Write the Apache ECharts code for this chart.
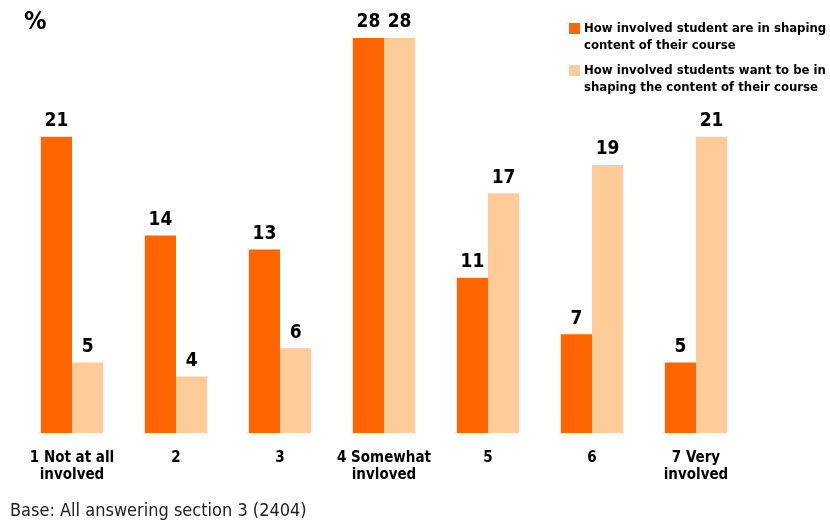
<!DOCTYPE html>
<html>
<head>
<meta charset="utf-8">
<script src="https://cdn.jsdelivr.net/npm/echarts@6/dist/echarts.min.js"></script>
<style>
html,body{margin:0;padding:0;background:#fff;}
#chart{width:830px;height:524px;}
</style>
</head>
<body>
<div id="chart"></div>
<script>
const categories = ['1 Not at all\ninvolved', '2', '3', '4 Somewhat\ninvloved', '5', '6', '7 Very\ninvolved'];
const seriesNames = ['How involved student are in shaping\ncontent of their course', 'How involved students want to be in\nshaping the content of their course'];
const currentValues = [21, 14, 13, 28, 11, 7, 5];
const desiredValues = [5, 4, 6, 28, 17, 19, 21];
const colors = ['#FF6600', '#FFCC99'];
const FONT = '"DejaVu Sans Condensed", "DejaVu Sans", Tahoma, sans-serif';

const chart = echarts.init(document.getElementById('chart'));
const labelOpt = {show: true, position: 'top', distance: 6, color: '#000', fontWeight: 'bold', fontSize: 19, fontFamily: FONT};
const legendGraphics = [];
seriesNames.forEach((n, i) => {
  const top = 22 + i * 42;
  legendGraphics.push({type: 'rect', left: 569, top: top + 1, shape: {width: 11, height: 11}, style: {fill: colors[i]}});
  legendGraphics.push({type: 'text', left: 584, top: top - 2, style: {text: n, fill: '#000', font: 'bold 13px ' + FONT, lineHeight: 17}});
});
chart.setOption({
  animation: false,
  grid: {left: 20, right: 82, top: 38, bottom: 91, containLabel: false},
  xAxis: {
    type: 'category', data: categories,
    axisLine: {show: false}, axisTick: {show: false},
    axisLabel: {interval: 0, margin: 17, color: '#000', fontWeight: 'bold', fontSize: 15, fontFamily: FONT, lineHeight: 17}
  },
  yAxis: {type: 'value', min: 0, max: 28, show: false, splitLine: {show: false}},
  series: [
    {name: seriesNames[0], type: 'bar', data: currentValues, barGap: '0%', barCategoryGap: '40%', itemStyle: {color: colors[0]}, label: labelOpt},
    {name: seriesNames[1], type: 'bar', data: desiredValues, barGap: '0%', barCategoryGap: '40%', itemStyle: {color: colors[1]}, label: labelOpt}
  ],
  graphic: [
    {type: 'text', left: 24, top: 10, style: {text: '%', fill: '#000', font: 'bold 25px ' + FONT}},
    {type: 'text', left: 10, top: 502, style: {text: 'Base: All answering section 3 (2404)', fill: '#222', font: '18px ' + FONT}}
  ].concat(legendGraphics)
});
</script>
</body>
</html>
